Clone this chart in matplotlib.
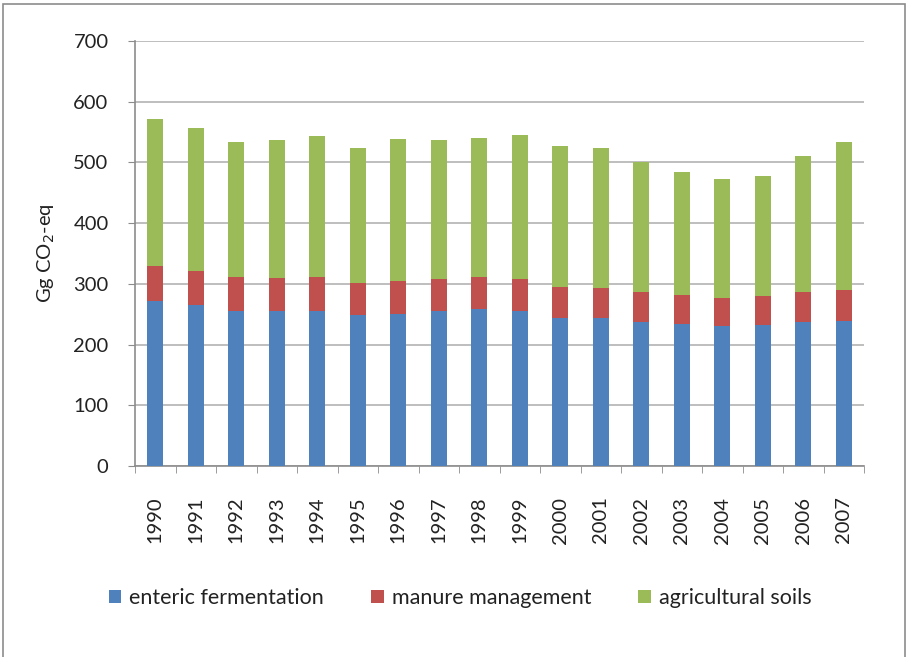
import numpy as np
import matplotlib
matplotlib.use('Agg')
import matplotlib.pyplot as plt
from matplotlib.patches import Rectangle

plt.rcParams['font.family'] = ['Lato', 'DejaVu Sans']

years = ['1990', '1991', '1992', '1993', '1994', '1995', '1996', '1997', '1998',
         '1999', '2000', '2001', '2002', '2003', '2004', '2005', '2006', '2007']
# stacked totals
enteric = [271, 265, 256, 256, 256, 249, 251, 255, 258,
           255, 244, 244, 238, 234, 230, 232, 238, 239]
manure_top = [329, 321, 311, 310, 311, 301, 304, 308, 311,
              308, 295, 293, 286, 282, 277, 280, 286, 290]
soils_top = [572, 557, 533, 537, 544, 524, 538, 537, 541,
             546, 527, 524, 501, 485, 473, 477, 510, 533]

manure = [m - e for m, e in zip(manure_top, enteric)]
soils = [s - m for s, m in zip(soils_top, manure_top)]

W, H = 906, 657
fig = plt.figure(figsize=(W / 100, H / 100), dpi=100)
ax = fig.add_axes([135 / W, 1 - 466 / H, (864 - 135) / W, (466 - 41) / H])

# chart border
fig.patches.append(Rectangle((3 / W, -0.05), (905 - 3) / W, 1.05 - 4 / H,
                             transform=fig.transFigure, fill=False,
                             edgecolor='#8c8c8c', linewidth=1.2))

x = np.arange(len(years))
w = 0.4
b1 = ax.bar(x, enteric, w, color='#4F81BD', label='enteric fermentation', zorder=3)
b2 = ax.bar(x, manure, w, bottom=enteric, color='#C0504D', label='manure management', zorder=3)
b3 = ax.bar(x, soils, w, bottom=manure_top, color='#9BBB59', label='agricultural soils', zorder=3)

ax.set_xlim(-0.5, len(years) - 0.5)
ax.set_ylim(0, 700)
ax.set_yticks(range(0, 701, 100))
ax.yaxis.grid(True, color='#b3b3b3', linewidth=1.2)
ax.set_axisbelow(True)

fs = 14.5
ax.set_xticks(x)
ax.set_xticklabels(years, rotation=90, fontsize=fs)
ax.set_xticks(np.arange(-0.5, len(years), 1), minor=True)
ax.tick_params(axis='x', which='major', length=0, pad=22)
ax.tick_params(axis='x', which='minor', length=5, color='#8c8c8c', direction='out')
ax.tick_params(axis='y', length=5, color='#8c8c8c', labelsize=fs, pad=14, labelcolor='#222222')
ax.tick_params(axis='x', labelcolor='#222222')

for s in ['top', 'right']:
    ax.spines[s].set_visible(False)
for s in ['left', 'bottom']:
    ax.spines[s].set_color('#8c8c8c')
    ax.spines[s].set_linewidth(1.2)

ax.set_ylabel('Gg CO$_2$-eq', fontsize=fs, labelpad=12, color='#222222')

fig.legend(handles=[b1, b2, b3], loc='center', bbox_to_anchor=(460 / W, 1 - 598 / H),
           ncol=3, frameon=False, fontsize=fs + 1, handlelength=0.6, handleheight=0.6,
           handletextpad=0.35, columnspacing=2.2, labelcolor='#222222')

fig.savefig('out.png', dpi=100)
